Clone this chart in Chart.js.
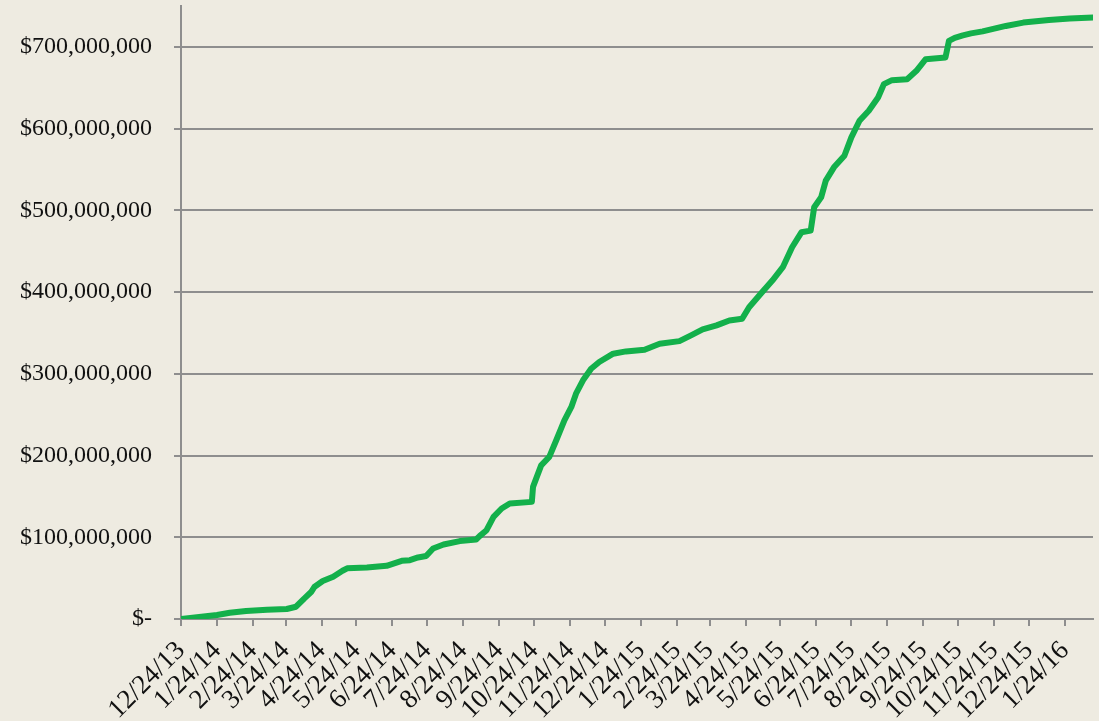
<!DOCTYPE html>
<html lang="en">

<head>
    <meta charset="UTF-8">
    <title>Cumulative Total</title>
    <script src="https://cdn.jsdelivr.net/npm/chart.js"></script>
    <style>
        html, body {
            margin: 0;
            padding: 0;
            background: #EEEBE1;
        }

        #chart-container {
            position: relative;
            width: 1099px;
            height: 721px;
        }
    </style>
</head>

<body>
    <div id="chart-container">
        <canvas id="myLineChart"></canvas>
    </div>

    <script>
        // Days since 12/24/13 for each point, and cumulative total in millions of dollars
        const dayOffsets = [0, 31, 42, 56, 74, 91, 99, 106, 112, 115, 122, 131, 139, 143, 160, 177, 190, 197, 204, 211,
            217, 226, 240, 254, 257, 263, 269, 276, 283, 302, 303, 310, 317, 323, 330, 336, 340, 346, 353, 360,
            372, 383, 399, 412, 429, 439, 449, 461, 472, 483, 489, 499, 509, 518, 526, 534, 542, 545, 551, 555,
            562, 571, 577, 584, 592, 600, 605, 612, 625, 633, 641, 658, 661, 666, 673, 680, 690, 710, 725, 747,
            765, 785];
        const totalMillions = [0, 4.9, 7.7, 9.8, 11.4, 12.2, 15, 25, 33, 39.5, 46.4, 51.7, 59, 62, 63.1, 65.1, 71.2, 72, 75.3, 77,
            86.3, 91.2, 95.3, 97.3, 101.4, 108.7, 125, 135.2, 141.3, 143.3, 161.6, 188, 198.3, 218.7, 243, 259.4, 275.7, 292, 306.2, 314.4,
            324.6, 327.4, 329.4, 336.8, 340, 347, 354.3, 359.2, 365.3, 367.3, 381.5, 397.9, 414.1, 430.4, 454.8, 473.1, 475.2, 503.7, 515.9, 536.3,
            552.6, 566.8, 589.2, 609.6, 621.8, 638, 654.4, 659.3, 660.5, 670.7, 684.9, 687, 707.3, 711, 714, 716.5, 719, 725.6, 729.7, 733,
            734.6, 735.8];

        // Monthly tick marks on the date axis
        const tickDays = [0, 31, 62, 90, 121, 151, 182, 212, 243, 274, 304, 335, 365, 396, 427, 455, 486, 516, 547, 577,
            608, 639, 669, 700, 730, 761];
        const tickLabels = ['12/24/13', '1/24/14', '2/24/14', '3/24/14', '4/24/14', '5/24/14', '6/24/14', '7/24/14',
            '8/24/14', '9/24/14', '10/24/14', '11/24/14', '12/24/14', '1/24/15', '2/24/15', '3/24/15', '4/24/15',
            '5/24/15', '6/24/15', '7/24/15', '8/24/15', '9/24/15', '10/24/15', '11/24/15', '12/24/15', '1/24/16'];

        // Value axis ticks
        const yTickValues = [0, 100000000, 200000000, 300000000, 400000000, 500000000, 600000000, 700000000];

        const points = dayOffsets.map((d, i) => ({ x: d, y: totalMillions[i] * 1000000 }));

        const gridGray = '#8E8E8E';
        const serif = '"Liberation Serif", "DejaVu Serif", serif';

        const ctx = document.getElementById('myLineChart').getContext('2d');

        new Chart(ctx, {
            type: 'line',
            data: {
                datasets: [{
                    data: points,
                    borderColor: '#13B04B',
                    borderWidth: 6,
                    borderJoinStyle: 'round',
                    borderCapStyle: 'round',
                    pointRadius: 0,
                    tension: 0,
                    fill: false
                }]
            },
            options: {
                responsive: true,
                maintainAspectRatio: false,
                animation: false,
                layout: { padding: { top: 6, right: 6, left: 0, bottom: 0 } },
                plugins: {
                    legend: { display: false },
                    tooltip: { enabled: false }
                },
                scales: {
                    x: {
                        type: 'linear',
                        min: 0,
                        max: 785,
                        afterBuildTicks: (scale) => {
                            scale.ticks = tickDays.map(v => ({ value: v }));
                        },
                        afterFit: (scale) => {
                            scale.height = 102;
                            scale.paddingRight = 0;
                        },
                        grid: {
                            drawOnChartArea: false,
                            drawTicks: true,
                            tickLength: 7,
                            color: gridGray,
                            lineWidth: 2
                        },
                        border: { color: gridGray, width: 2 },
                        ticks: {
                            autoSkip: false,
                            minRotation: 45,
                            maxRotation: 45,
                            padding: 9,
                            color: '#111',
                            font: { family: serif, size: 27 },
                            callback: (value) => {
                                const idx = tickDays.indexOf(value);
                                return idx >= 0 ? tickLabels[idx] : '';
                            }
                        }
                    },
                    y: {
                        min: 0,
                        max: 750000000,
                        afterBuildTicks: (scale) => {
                            scale.ticks = yTickValues.map(v => ({ value: v }));
                        },
                        afterFit: (scale) => {
                            scale.width = 181;
                            scale.paddingTop = 0;
                        },
                        grid: {
                            color: gridGray,
                            lineWidth: 2,
                            tickLength: 7
                        },
                        border: { color: gridGray, width: 2 },
                        ticks: {
                            padding: 22,
                            color: '#111',
                            font: { family: serif, size: 24 },
                            callback: (value) => value === 0 ? '$-' : '$' + value.toLocaleString('en-US')
                        }
                    }
                }
            }
        });
    </script>
</body>

</html>
